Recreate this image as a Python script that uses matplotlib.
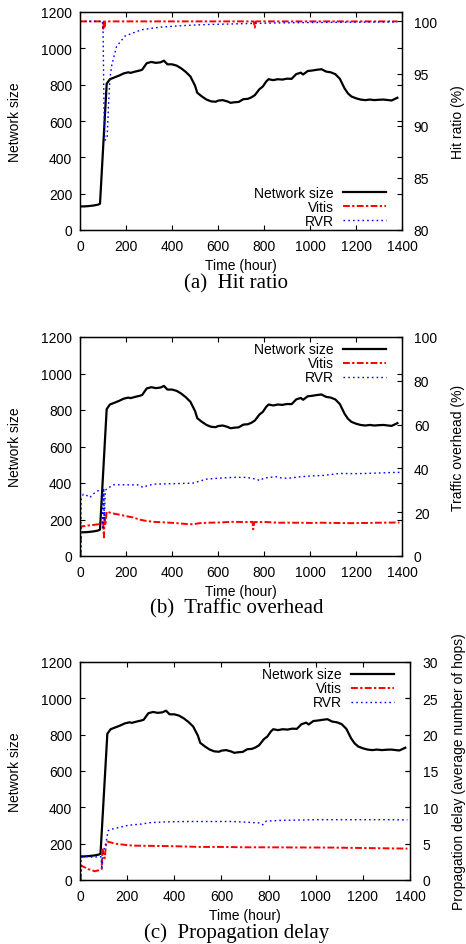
#!python3
import matplotlib
matplotlib.use("Agg")
from matplotlib import pyplot as plt

plt.rcParams["font.family"] = ["Liberation Sans", "DejaVu Sans"]
plt.rcParams["font.size"] = 10

# network size (same trace in all three panels)
size_t = [0, 20, 40, 60, 80, 87, 116, 130, 150, 170, 190, 210, 220, 240, 260, 270, 290, 310,
          330, 350, 365, 380, 400, 420, 440, 460, 480, 500, 510, 530, 550, 570, 590, 600,
          620, 640, 655, 670, 690, 710, 730, 745, 760, 780, 795, 810, 820, 840, 860, 880,
          900, 920, 940, 960, 970, 990, 1010, 1030, 1050, 1070, 1090, 1110, 1130, 1150,
          1165, 1180, 1200, 1220, 1240, 1260, 1280, 1300, 1320, 1340, 1355, 1370, 1380]
size_v = [130, 130, 132, 135, 140, 145, 805, 830, 840, 850, 862, 868, 865, 872, 878, 882,
          918, 925, 920, 923, 932, 912, 912, 905, 890, 870, 845, 795, 755, 735, 718, 708,
          706, 712, 715, 708, 700, 703, 705, 720, 722, 730, 742, 775, 790, 818, 830, 825,
          830, 828, 833, 832, 858, 866, 856, 875, 878, 882, 885, 872, 868, 858, 832, 780,
          752, 735, 725, 718, 715, 718, 715, 717, 718, 715, 713, 722, 728]

# (a) hit ratio (%)
hit_vitis_t = [0, 98, 101, 104, 107, 110, 755, 760, 765, 1380]
hit_vitis_v = [100, 100, 99.3, 100, 99.5, 100, 100, 99.4, 100, 100]
hit_rvr_t = [0, 100, 104, 108, 118, 124, 130, 138, 159, 196, 268, 350, 450, 550, 650, 750,
             850, 950, 1050, 1150, 1250, 1380]
hit_rvr_v = [100, 100, 92, 88.6, 88.8, 92, 94.5, 95.8, 97.6, 98.6, 99.2, 99.45, 99.6, 99.7,
             99.75, 99.8, 99.85, 99.88, 99.9, 99.92, 99.93, 99.95]

# (b) traffic overhead (%)
ovh_vitis_t = [0, 3, 5, 20, 40, 60, 80, 90, 100, 104, 107, 110, 116, 130, 150, 175, 200, 231,
               260, 289, 320, 376, 420, 463, 490, 521, 560, 600, 666, 720, 750, 753, 758, 810,
               860, 955, 1000, 1050, 1100, 1172, 1250, 1300, 1389]
ovh_vitis_v = [0, 0, 13.5, 13.7, 14.0, 14.2, 14.5, 15.0, 16.0, 8.5, 19.0, 14.0, 20.3, 19.8,
               19.3, 18.8, 18.2, 17.6, 16.6, 16.0, 15.6, 15.3, 15.0, 14.6, 14.5, 15.0, 15.2,
               15.3, 15.6, 15.5, 15.6, 12.2, 15.5, 15.5, 15.2, 15.2, 15.1, 15.2, 15.1, 15.0,
               15.1, 15.2, 15.3]
ovh_rvr_t = [0, 3, 5, 14, 25, 35, 43, 55, 65, 75, 87, 95, 100, 103, 106, 110, 115, 125, 145,
             200, 250, 275, 290, 318, 400, 492, 530, 550, 600, 666, 724, 770, 781, 800, 854,
             880, 912, 960, 1013, 1060, 1129, 1200, 1245, 1300, 1350, 1389]
ovh_rvr_v = [0, 0, 26, 28.2, 28.0, 27.2, 26.7, 28.0, 29.0, 29.5, 30.5, 30.5, 12, 31, 16, 30,
             30.5, 31.2, 32.5, 32.5, 32.5, 31.3, 32.0, 32.8, 33.0, 33.3, 34.5, 35.1, 35.5,
             35.9, 35.9, 35.0, 34.4, 35.6, 36.2, 35.5, 35.6, 36.2, 36.6, 36.8, 37.7, 37.6,
             37.7, 37.9, 38.1, 38.2]

# (c) propagation delay (average number of hops)
dly_vitis_t = [0, 3, 5, 10, 35, 63, 80, 92, 95, 100, 105, 110, 115, 127, 150, 200, 226, 300,
               400, 509, 600, 700, 791, 900, 1074, 1200, 1300, 1389]
dly_vitis_v = [0, 0, 2.0, 1.9, 1.5, 1.2, 1.35, 1.5, 4.2, 3.5, 3.0, 4.8, 5.3, 5.2, 5.0, 4.8,
               4.73, 4.7, 4.65, 4.55, 4.55, 4.5, 4.5, 4.48, 4.46, 4.4, 4.36, 4.32]
dly_rvr_t = [0, 3, 5, 20, 40, 60, 80, 89, 93, 97, 100, 105, 110, 115, 120, 135, 150, 162,
             200, 226, 261, 300, 368, 450, 550, 650, 764, 775, 790, 850, 1000, 1100, 1200,
             1300, 1389]
dly_rvr_v = [0, 0, 3.1, 3.26, 3.2, 3.1, 3.25, 3.2, 1.5, 3.0, 4.0, 4.7, 5.0, 6.0, 6.8, 7.0,
             7.1, 7.2, 7.5, 7.6, 7.7, 7.9, 8.0, 8.05, 8.05, 8.05, 7.85, 7.6, 8.1, 8.2, 8.3,
             8.3, 8.3, 8.3, 8.27]

W, H = 466, 945
black_kw = {"color": "black", "lw": 1.6}
vitis_kw = {"color": "red", "lw": 1.4, "dashes": (3.5, 1.2, 1.2, 1.2)}
rvr_kw = {"color": "blue", "lw": 1.0, "dashes": (1.2, 2.2)}


def panel(fig, left, right, top, bottom, y2, y2lim, y2ticks, y2label,
          leg_loc, leg_anchor, y2pos, y2pad):
    ax = fig.add_axes([left / W, 1 - bottom / H, (right - left) / W, (bottom - top) / H])
    ax2 = ax.twinx()
    ax.plot(size_t, size_v, label="Network size", **black_kw)
    l1, = ax2.plot(y2[0], y2[1], label="Vitis", **vitis_kw)
    l2, = ax2.plot(y2[2], y2[3], label="RVR", **rvr_kw)
    ax.set_xlim(0, 1400)
    ax.set_ylim(0, 1200)
    ax.set_xticks(range(0, 1401, 200))
    ax.set_yticks(range(0, 1201, 200))
    ax2.set_ylim(*y2lim)
    ax2.set_yticks(y2ticks)
    ax.tick_params(direction="in", length=3.5, width=0.8, top=True, right=True)
    ax.tick_params(axis="y", pad=5.5)
    ax.tick_params(axis="x", pad=6.5)
    ax2.tick_params(direction="in", length=3.5, width=0.8, pad=y2pad)
    for a in (ax, ax2):
        for s in a.spines.values():
            s.set_linewidth(0.9)
    ax.set_xlabel("Time (hour)")
    ax.set_ylabel("Network size")
    ax2.set_ylabel(y2label)
    for lab in (ax.yaxis.label, ax2.yaxis.label):
        lab.set_va("center")
        lab.set_ha("center")
    ax.yaxis.set_label_coords((15 - left) / (right - left), 0.5)
    ax2.yaxis.set_label_coords((y2pos - left) / (right - left), 0.5)
    ax.xaxis.label.set_va("center")
    ax.xaxis.set_label_coords(0.5, -35 / (bottom - top))
    h = ax.get_legend_handles_labels()[0] + [l1, l2]
    ax2.legend(h, [x.get_label() for x in h], loc=leg_loc, bbox_to_anchor=leg_anchor,
               frameon=False, markerfirst=False, handlelength=3.1, handletextpad=0.65,
               labelspacing=0.0, borderpad=0, borderaxespad=0)
    return ax


def main():
    fig = plt.figure(figsize=(W / 100, H / 100), dpi=100)

    panel(fig, 80, 402, 13, 231, (hit_vitis_t, hit_vitis_v, hit_rvr_t, hit_rvr_v),
          (80, 100.9), range(80, 101, 5), "Hit ratio (%)",
          "lower right", (0.95, 0.01), 458, 8.5)
    fig.text(236 / W, 1 - 284 / H, "(a)  Hit ratio", family="Liberation Serif",
             fontsize=15, ha="center", va="center")

    panel(fig, 80, 402, 338, 557, (ovh_vitis_t, ovh_vitis_v, ovh_rvr_t, ovh_rvr_v),
          (0, 100), range(0, 101, 20), "Traffic overhead (%)",
          "upper right", (0.95, 0.975), 458, 8.5)
    fig.text(237 / W, 1 - 609 / H, "(b)  Traffic overhead", family="Liberation Serif",
             fontsize=15, ha="center", va="center")

    panel(fig, 80, 410, 663, 881, (dly_vitis_t, dly_vitis_v, dly_rvr_t, dly_rvr_v),
          (0, 30), range(0, 31, 5), "Propagation delay (average number of hops)",
          "upper right", (0.951, 0.975), 459, 9)
    fig.text(237 / W, 1 - 933 / H, "(c)  Propagation delay", family="Liberation Serif",
             fontsize=15, ha="center", va="center")

    fig.savefig("out.png", dpi=100)


if __name__ == "__main__":
    main()
